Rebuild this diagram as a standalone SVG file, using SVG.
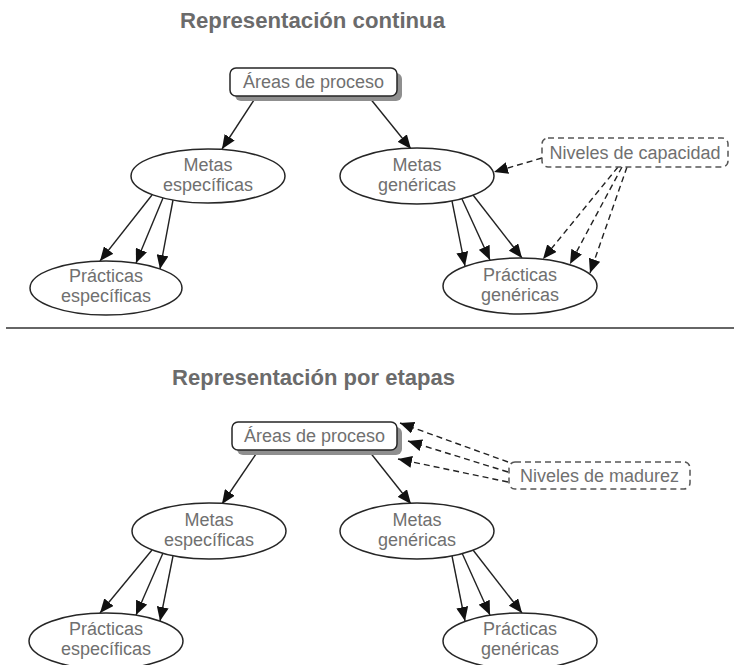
<svg xmlns="http://www.w3.org/2000/svg" width="734" height="665" viewBox="0 0 734 665">
  <style>
    .title { font-family: "Liberation Sans", Arial, sans-serif; font-weight: bold; font-size: 22px; fill: #6b6b6b; }
    .lbl { font-family: "Liberation Sans", Arial, sans-serif; font-size: 18px; fill: #707070; text-anchor: middle; }
    .node { fill: #ffffff; stroke: #262626; stroke-width: 1.5; }
    .shadow { fill: #8f8f8f; }
    .dashbox { fill: #ffffff; stroke: #555555; stroke-width: 1.5; stroke-dasharray: 6 4; }
    .edge { stroke: #222222; stroke-width: 1.4; fill: none; marker-end: url(#head); }
    .dashed { stroke-dasharray: 6 4; }
    .rule { stroke: #333333; stroke-width: 1.6; }
  </style>
  <defs>
    <marker id="head" markerUnits="userSpaceOnUse" markerWidth="15" markerHeight="12" refX="14" refY="6" orient="auto">
      <path d="M0,0 L14,6 L0,12 z" fill="#111111"/>
    </marker>
  </defs>

  <rect width="734" height="665" fill="#ffffff"/>

  <!-- upper panel: continuous representation -->
  <text class="title" x="180" y="28" textLength="265" lengthAdjust="spacingAndGlyphs">Representación continua</text>

  <g id="connectors-top">
    <line class="edge" x1="256" y1="97" x2="222" y2="149"/>
    <line class="edge" x1="369" y1="97" x2="411" y2="149"/>
    <line class="edge" x1="152" y1="195" x2="100" y2="261"/>
    <line class="edge" x1="163" y1="198" x2="136" y2="263"/>
    <line class="edge" x1="173" y1="200" x2="160" y2="269"/>
    <line class="edge" x1="452" y1="201" x2="465" y2="266"/>
    <line class="edge" x1="462" y1="199" x2="490" y2="260"/>
    <line class="edge" x1="473" y1="195" x2="522" y2="258"/>
    <line class="edge dashed" x1="542" y1="158" x2="494" y2="172"/>
    <line class="edge dashed" x1="618" y1="167" x2="543" y2="259"/>
    <line class="edge dashed" x1="622" y1="167" x2="570" y2="264"/>
    <line class="edge dashed" x1="627" y1="167" x2="590" y2="273"/>
  </g>

  <g id="areas-top">
    <rect class="shadow" x="235" y="73" width="167" height="28" rx="6"/>
    <rect class="node" x="230" y="68" width="167" height="28" rx="6"/>
    <text class="lbl" x="313.5" y="88">Áreas de proceso</text>
  </g>
  <g id="metas-esp-top">
    <ellipse class="node" cx="208" cy="176" rx="77" ry="27"/>
    <text class="lbl" x="208" y="171">Metas</text>
    <text class="lbl" x="208" y="191">específicas</text>
  </g>
  <g id="metas-gen-top">
    <ellipse class="node" cx="417" cy="176" rx="77" ry="28"/>
    <text class="lbl" x="417" y="171">Metas</text>
    <text class="lbl" x="417" y="191">genéricas</text>
  </g>
  <g id="niveles-capacidad">
    <rect class="dashbox" x="542" y="138" width="186" height="29" rx="6"/>
    <text class="lbl" x="635" y="159">Niveles de capacidad</text>
  </g>
  <g id="practicas-esp-top">
    <ellipse class="node" cx="106" cy="288" rx="76" ry="27"/>
    <text class="lbl" x="106" y="282">Prácticas</text>
    <text class="lbl" x="106" y="302">específicas</text>
  </g>
  <g id="practicas-gen-top">
    <ellipse class="node" cx="520" cy="286" rx="77" ry="28"/>
    <text class="lbl" x="520" y="281">Prácticas</text>
    <text class="lbl" x="520" y="301">genéricas</text>
  </g>

  <line class="rule" x1="6" y1="328" x2="734" y2="328"/>

  <!-- lower panel: staged representation -->
  <text class="title" x="172" y="385" font-size="25" textLength="283" lengthAdjust="spacingAndGlyphs">Representación por etapas</text>

  <g id="connectors-bottom">
    <line class="edge" x1="258" y1="451" x2="222" y2="504"/>
    <line class="edge" x1="369" y1="451" x2="411" y2="504"/>
    <line class="edge dashed" x1="508" y1="462" x2="400" y2="423"/>
    <line class="edge dashed" x1="508" y1="472" x2="408" y2="441"/>
    <line class="edge dashed" x1="508" y1="482" x2="398" y2="459"/>
    <line class="edge" x1="152" y1="550" x2="100" y2="613"/>
    <line class="edge" x1="163" y1="553" x2="136" y2="615"/>
    <line class="edge" x1="173" y1="556" x2="160" y2="621"/>
    <line class="edge" x1="452" y1="556" x2="465" y2="621"/>
    <line class="edge" x1="462" y1="553" x2="490" y2="615"/>
    <line class="edge" x1="473" y1="550" x2="522" y2="613"/>
  </g>

  <g id="areas-bottom">
    <rect class="shadow" x="237" y="427" width="165" height="28" rx="6"/>
    <rect class="node" x="232" y="422" width="165" height="28" rx="6"/>
    <text class="lbl" x="314.5" y="442">Áreas de proceso</text>
  </g>
  <g id="niveles-madurez">
    <rect class="dashbox" x="509" y="462" width="181" height="27" rx="6"/>
    <text class="lbl" x="599.5" y="482">Niveles de madurez</text>
  </g>
  <g id="metas-esp-bottom">
    <ellipse class="node" cx="209" cy="531" rx="77" ry="28"/>
    <text class="lbl" x="209" y="526">Metas</text>
    <text class="lbl" x="209" y="546">específicas</text>
  </g>
  <g id="metas-gen-bottom">
    <ellipse class="node" cx="417" cy="531" rx="77" ry="28"/>
    <text class="lbl" x="417" y="526">Metas</text>
    <text class="lbl" x="417" y="546">genéricas</text>
  </g>
  <g id="practicas-esp-bottom">
    <ellipse class="node" cx="106" cy="641" rx="77" ry="28"/>
    <text class="lbl" x="106" y="635">Prácticas</text>
    <text class="lbl" x="106" y="655">específicas</text>
  </g>
  <g id="practicas-gen-bottom">
    <ellipse class="node" cx="520" cy="641" rx="77" ry="28"/>
    <text class="lbl" x="520" y="635">Prácticas</text>
    <text class="lbl" x="520" y="655">genéricas</text>
  </g>
</svg>
